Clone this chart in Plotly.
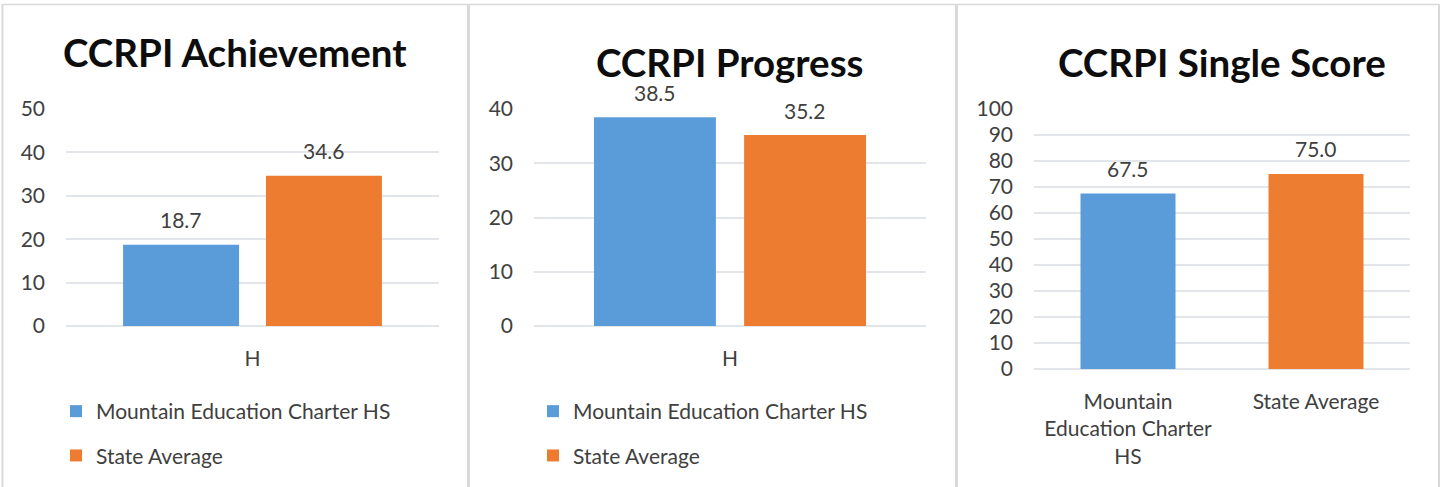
import plotly.graph_objects as go

# ---------------- data ----------------
series_names = ["Mountain Education Charter HS", "State Average"]
group_category = ["H"]
achievement_values = [18.7, 34.6]
progress_values = [38.5, 35.2]
single_categories = ["Mountain Education Charter HS", "State Average"]
single_tick_labels = ["Mountain<br>Education Charter<br>HS", "State Average"]
single_values = [67.5, 75.0]
titles = ["CCRPI Achievement", "CCRPI Progress", "CCRPI Single Score"]
ach_ticks = [0, 10, 20, 30, 40, 50]
prog_ticks = [0, 10, 20, 30, 40]
single_ticks = [0, 10, 20, 30, 40, 50, 60, 70, 80, 90, 100]

# ---------------- style ----------------
W, H = 1442, 487
FONT = "Lato"
TXT = "#404040"
GRID = "#E2E5EA"
BLUE = "#5A9BD9"
ORANGE = "#EE7C30"
ORANGE_SOLID = "#ED7D31"
BARGAP = 0.234
BARGROUPGAP = 0.188


def px_x(a, b):
    return [a / W, b / W]


def px_y(top, bottom):
    return [1 - bottom / H, 1 - top / H]


# plot areas in pixels (left, right, top, bottom)
areas = [(66, 439, 109, 326), (534, 926, 109, 326), (1034, 1410, 109, 369)]

fig = go.Figure()

colors = [BLUE, ORANGE]
# panel 1
for i, name in enumerate(series_names):
    fig.add_trace(go.Bar(x=group_category, y=[achievement_values[i]], name=name,
                         marker=dict(color=colors[i], line=dict(width=0)),
                         xaxis="x", yaxis="y", legend="legend",
                         legendgroup=f"a{i}", hoverinfo="y"))
# panel 2
for i, name in enumerate(series_names):
    fig.add_trace(go.Bar(x=group_category, y=[progress_values[i]], name=name,
                         marker=dict(color=colors[i], line=dict(width=0)),
                         xaxis="x2", yaxis="y2", legend="legend2",
                         legendgroup=f"b{i}", hoverinfo="y"))
# panel 3
fig.add_trace(go.Bar(x=single_categories, y=single_values,
                     marker=dict(color=[BLUE, ORANGE_SOLID], line=dict(width=0)),
                     width=95 / 188, xaxis="x3", yaxis="y3", showlegend=False,
                     hoverinfo="y"))

annotations = []
# value labels
for vals, xr, yr, area in [(achievement_values, "x", "y", areas[0]),
                           (progress_values, "x2", "y2", areas[1])]:
    shift = (area[1] - area[0]) * (1 - BARGAP) / 4
    for i, v in enumerate(vals):
        annotations.append(dict(x=group_category[0], y=v, xref=xr, yref=yr,
                                text=f"{v:.1f}", showarrow=False,
                                xshift=(-shift if i == 0 else shift), yshift=25,
                                yanchor="middle",
                                font=dict(family=FONT, size=21, color=TXT)))
for c, v in zip(single_categories, single_values):
    annotations.append(dict(x=c, y=v, xref="x3", yref="y3", text=f"{v:.1f}",
                            showarrow=False, yshift=25, yanchor="middle",
                            font=dict(family=FONT, size=21, color=TXT)))

# titles
title_pos = [(235, 52), (730, 62), (1222, 62)]
for t, (tx, ty) in zip(titles, title_pos):
    annotations.append(dict(x=tx / W, y=1 - ty / H, xref="paper", yref="paper",
                            text=f"<b>{t}</b>", showarrow=False,
                            xanchor="center", yanchor="middle",
                            font=dict(family=FONT, size=38.5, color="#0D0D0D")))

axis_common = dict(showgrid=False, zeroline=False, showline=False, ticks="",
                   automargin=False,
                   tickfont=dict(family=FONT, size=21, color=TXT), fixedrange=True)
yaxis_common = dict(showgrid=True, gridcolor=GRID, gridwidth=2, zeroline=True,
                    zerolinecolor=GRID, zerolinewidth=2, showline=False, ticks="",
                    automargin=False,
                    tickfont=dict(family=FONT, size=21, color=TXT), fixedrange=True,
                    ticklabelstandoff=20)

fig.update_layout(
    width=W, height=H, autosize=False,
    margin=dict(l=0, r=0, t=0, b=0, pad=0, autoexpand=False),
    paper_bgcolor="white", plot_bgcolor="white",
    barmode="group", bargap=BARGAP, bargroupgap=BARGROUPGAP,
    font=dict(family=FONT, color=TXT),
    xaxis=dict(domain=px_x(areas[0][0], areas[0][1]), anchor="y", ticklabelstandoff=18, **axis_common),
    yaxis=dict(domain=px_y(areas[0][2], areas[0][3]), anchor="x", range=[0, 50],
               tickvals=ach_ticks, **yaxis_common),
    xaxis2=dict(domain=px_x(areas[1][0], areas[1][1]), anchor="y2", ticklabelstandoff=18, **axis_common),
    yaxis2=dict(domain=px_y(areas[1][2], areas[1][3]), anchor="x2", range=[0, 40],
                tickvals=prog_ticks, **yaxis_common),
    xaxis3=dict(domain=px_x(areas[2][0], areas[2][1]), anchor="y3",
                tickvals=single_categories, ticktext=single_tick_labels,
                ticklabelstandoff=18, **axis_common),
    yaxis3=dict(domain=px_y(areas[2][2], areas[2][3]), anchor="x3", range=[0, 100],
                tickvals=single_ticks, **yaxis_common),
    legend=dict(x=56 / W, y=1 - 391 / H, xanchor="left", yanchor="top",
                orientation="v", tracegroupgap=14, bgcolor="rgba(0,0,0,0)",
                font=dict(family=FONT, size=21, color=TXT)),
    legend2=dict(x=533 / W, y=1 - 391 / H, xanchor="left", yanchor="top",
                 orientation="v", tracegroupgap=14, bgcolor="rgba(0,0,0,0)",
                 font=dict(family=FONT, size=21, color=TXT)),
    annotations=annotations,
    showlegend=True,
)

# panel frames
frame = "#D9D9D9"
shapes = [
    dict(type="line", xref="paper", yref="paper", x0=2 / W, x1=1440 / W,
         y0=1 - 4.5 / H, y1=1 - 4.5 / H, line=dict(color=frame, width=1.5)),
    dict(type="line", xref="paper", yref="paper", x0=2.5 / W, x1=2.5 / W,
         y0=0, y1=1 - 4.5 / H, line=dict(color=frame, width=2)),
    dict(type="line", xref="paper", yref="paper", x0=468.5 / W, x1=468.5 / W,
         y0=0, y1=1 - 4.5 / H, line=dict(color=frame, width=3)),
    dict(type="line", xref="paper", yref="paper", x0=956.5 / W, x1=956.5 / W,
         y0=0, y1=1 - 4.5 / H, line=dict(color=frame, width=3)),
    dict(type="line", xref="paper", yref="paper", x0=1439 / W, x1=1439 / W,
         y0=0, y1=1 - 4.5 / H, line=dict(color=frame, width=2)),
]
fig.update_layout(shapes=shapes)

fig.write_html("out.html", config={"displayModeBar": False},
               post_script="document.body.style.margin='0';document.body.style.overflow='hidden';")
